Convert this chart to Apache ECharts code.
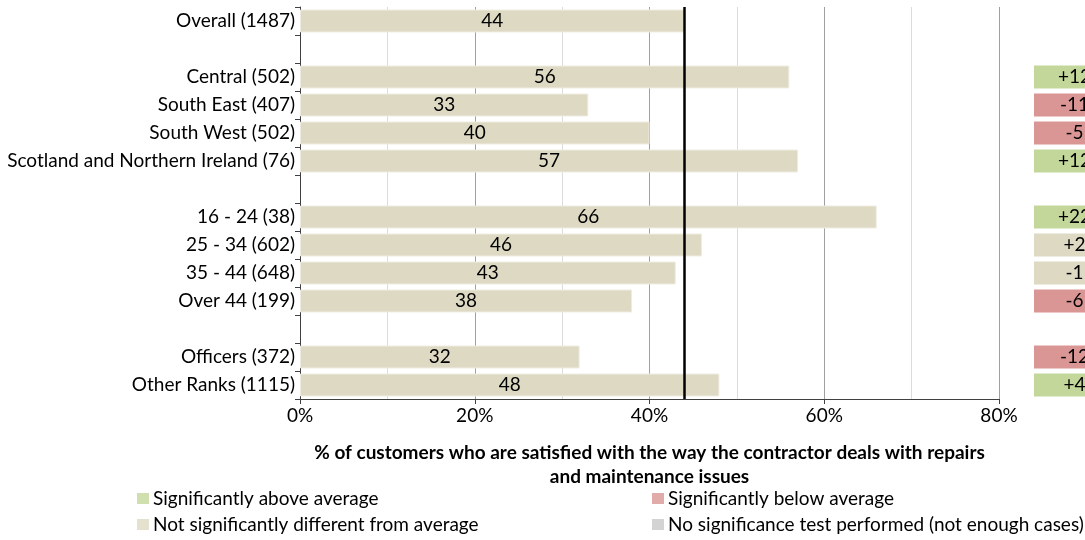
<!DOCTYPE html>
<html>
<head>
<meta charset="utf-8">
<script src="https://cdn.jsdelivr.net/npm/echarts@6/dist/echarts.min.js"></script>
<style>
  html, body { margin: 0; padding: 0; background: #fff; }
  #chart { width: 1085px; height: 540px; }
</style>
</head>
<body>
<div id="chart"></div>
<script>
// Rows of the chart, top to bottom; blank strings are spacer rows between groups
const categories = [
  'Overall (1487)', ' ',
  'Central (502)', 'South East (407)', 'South West (502)', 'Scotland and Northern Ireland (76)', '  ',
  '16 - 24 (38)', '25 - 34 (602)', '35 - 44 (648)', 'Over 44 (199)', '   ',
  'Officers (372)', 'Other Ranks (1115)'
];
// % satisfied with the way the contractor deals with repairs and maintenance
const satisfied = [44, null, 56, 33, 40, 57, null, 66, 46, 43, 38, null, 32, 48];
// Difference from the overall average (percentage points)
const diffFromAverage = [null, null, 12, -11, -5, 12, null, 22, 2, -1, -6, null, -12, 4];
// Significance test result for each row
const significance = [null, null, 'above', 'below', 'below', 'above', null, 'above', 'same', 'same', 'below', null, 'below', 'above'];
const xTickValues = [0, 20, 40, 60, 80];

const legendNames = {
  above: 'Significantly above average',
  same: 'Not significantly different from average',
  below: 'Significantly below average',
  none: 'No significance test performed (not enough cases)'
};
const colors = {
  above: '#c4d79b',
  same: '#ddd9c3',
  below: '#da9694',
  none: '#c8c8c8'
};

const FONT = 'Lato';
const FS = 19;
const averageValue = satisfied[0];

const diffData = diffFromAverage.map((d, i) => d === null ? '-' : {
  value: 1,
  itemStyle: { color: colors[significance[i]] }
});

const legendSeries = Object.keys(legendNames).map(k => ({
  name: legendNames[k],
  type: 'scatter',
  xAxisIndex: 0,
  yAxisIndex: 0,
  data: [],
  itemStyle: { color: colors[k] }
}));

const legendBase = {
  orient: 'vertical',
  top: 489,
  height: 51,
  padding: 0,
  itemWidth: 12,
  itemHeight: 11,
  itemGap: 7,
  icon: 'rect',
  selectedMode: false,
  textStyle: { color: '#000', fontSize: FS, fontFamily: FONT, padding: [0, 0, 0, -1] }
};

const chart = echarts.init(document.getElementById('chart'), null, { renderer: 'canvas' });
chart.setOption({
  animation: false,
  textStyle: { fontFamily: FONT },
  grid: [
    { left: 300, top: 7, width: 699, height: 392, containLabel: false },
    // difference column runs off the right edge of the canvas
    { left: 1034, top: 7, right: 0, height: 392, containLabel: false }
  ],
  xAxis: [
    {
      gridIndex: 0,
      type: 'value',
      min: xTickValues[0],
      max: xTickValues[xTickValues.length - 1],
      interval: 20,
      axisLine: { show: true, lineStyle: { color: '#404040', width: 1 } },
      axisTick: { show: true, length: 5, lineStyle: { color: '#404040' } },
      axisLabel: { color: '#000', fontSize: FS, fontFamily: FONT, margin: 7, formatter: v => v + '%' },
      splitLine: { show: true, lineStyle: { color: '#a0a0a0', width: 1 } },
      minorTick: { show: false, splitNumber: 2 },
      minorSplitLine: { show: true, lineStyle: { color: '#dcdcdc', width: 1 } },
      name: '% of customers who are satisfied with the way the contractor deals with repairs\nand maintenance issues',
      nameLocation: 'middle',
      nameGap: 42,
      nameTextStyle: { color: '#000', fontSize: FS, fontWeight: 'bold', fontFamily: FONT, lineHeight: 24 }
    },
    {
      gridIndex: 1,
      type: 'value',
      min: 0,
      max: 1,
      show: false
    }
  ],
  yAxis: [
    {
      gridIndex: 0,
      type: 'category',
      data: categories,
      inverse: true,
      axisLine: { show: true, lineStyle: { color: '#404040', width: 1 } },
      axisTick: { show: true, length: 5, interval: 0, lineStyle: { color: '#404040' } },
      axisLabel: { color: '#000', fontSize: FS, fontFamily: FONT, margin: 5, interval: 0 },
      splitLine: { show: false }
    },
    {
      gridIndex: 1,
      type: 'category',
      data: categories,
      inverse: true,
      show: false
    }
  ],
  legend: [
    Object.assign({ data: [legendNames.above, legendNames.same], left: 137 }, legendBase),
    Object.assign({ data: [legendNames.below, legendNames.none], left: 652 }, legendBase)
  ],
  series: [
    {
      type: 'bar',
      xAxisIndex: 0,
      yAxisIndex: 0,
      data: satisfied.map(v => v === null ? '-' : v),
      barCategoryGap: '18%',
      itemStyle: { color: colors.same, borderColor: '#eeece2', borderWidth: 1 },
      label: {
        show: true,
        position: 'inside',
        color: '#000',
        fontSize: FS,
        fontFamily: FONT,
        formatter: p => String(p.value)
      },
      markLine: {
        silent: true,
        symbol: 'none',
        label: { show: false },
        lineStyle: { color: '#000', width: 2.5, type: 'solid' },
        data: [{ xAxis: averageValue }]
      },
      z: 2
    },
    {
      type: 'bar',
      xAxisIndex: 1,
      yAxisIndex: 1,
      data: diffData,
      barCategoryGap: '18%',
      label: {
        show: true,
        position: 'inside',
        offset: [15, 0],
        color: '#000',
        fontSize: FS,
        fontFamily: FONT,
        formatter: p => {
          const d = diffFromAverage[p.dataIndex];
          return (d > 0 ? '+' : '') + d;
        }
      }
    },
    ...legendSeries
  ]
});
</script>
</body>
</html>
